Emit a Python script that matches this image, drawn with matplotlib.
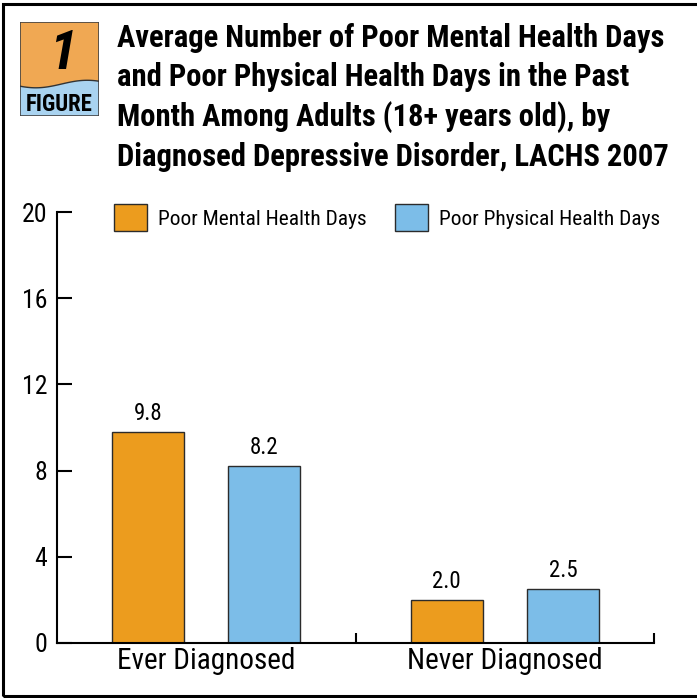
import numpy as np
import matplotlib
matplotlib.use("Agg")
import matplotlib.pyplot as plt
import matplotlib.font_manager as fm
from matplotlib.patches import Rectangle, Polygon

# data
groups = ['Ever Diagnosed', 'Never Diagnosed']
series = ['Poor Mental Health Days', 'Poor Physical Health Days']
mental_days = [9.8, 2.0]
physical_days = [8.2, 2.5]
y_ticks = [0, 4, 8, 12, 16, 20]
title_lines = ['Average Number of Poor Mental Health Days',
               'and Poor Physical Health Days in the Past',
               'Month Among Adults (18+ years old), by',
               'Diagnosed Depressive Disorder, LACHS 2007']

ORANGE = '#EC9C1E'
BLUE = '#7CBDE8'
EDGE = '#2b2b2b'

# pick a narrow sans if one is installed
fonts = fm.fontManager.ttflist
names = {f.name for f in fonts}
stretched = {(f.name, f.stretch) for f in fonts}
FONT = {'family': 'Liberation Sans'}
for n in ['Liberation Sans Narrow', 'Roboto Condensed', 'Open Sans Condensed',
          'Noto Sans Condensed', 'DejaVu Sans Condensed']:
    if n in names:
        FONT = {'family': n}
        break
else:
    for n in ['Noto Sans', 'Open Sans', 'Roboto', 'DejaVu Sans']:
        if (n, 'condensed') in stretched or (n, 'semi-condensed') in stretched:
            FONT = {'family': n, 'stretch': 'condensed'}
            break
if FONT['family'] not in names:
    FONT = {'family': 'DejaVu Sans'}
plt.rcParams['font.family'] = [FONT['family'], 'DejaVu Sans']
if 'stretch' in FONT:
    plt.rcParams['font.stretch'] = FONT['stretch']

W, H = 697, 698
fig = plt.figure(figsize=(W / 100, H / 100), dpi=100)
renderer = fig.canvas.get_renderer()


def fit_size(s, target_px, weight='normal', base=20.0):
    # font size that makes string s about target_px wide
    t = fig.text(0, 0, s, fontsize=base, fontweight=weight)
    w = t.get_window_extent(renderer).width
    t.remove()
    return base * target_px / w


def px_box(x0, y0, x1, y1):
    # pixel box (top-left origin) -> figure fraction rect
    return [x0 / W, 1 - y1 / H, (x1 - x0) / W, (y1 - y0) / H]


# outer frame (right edge runs off the canvas)
frame = Rectangle((3 / W, 2 / H), 1.2, 1 - 6 / H, transform=fig.transFigure,
                  fill=False, edgecolor='black', linewidth=2.2)
fig.patches.append(frame)

# figure badge
bax = fig.add_axes(px_box(20, 22, 99, 116))
bax.set_xlim(0, 1)
bax.set_ylim(0, 1)
bax.axis('off')
wx = np.linspace(0, 1, 60)
wy = 0.34 - 0.04 * np.cos(2 * np.pi * (wx - 0.2) / 1.3)
bax.add_patch(Polygon(np.column_stack([np.r_[wx, 1, 0], np.r_[wy, 1, 1]]),
                      closed=True, facecolor='#F0A853', edgecolor='none'))
bax.add_patch(Polygon(np.column_stack([np.r_[wx, 1, 0], np.r_[wy, 0, 0]]),
                      closed=True, facecolor='#A9D3F0', edgecolor='none'))
bax.plot(wx, wy, color='#333333', lw=1.0)
bax.add_patch(Rectangle((0, 0), 1, 1, fill=False, edgecolor='#444444', lw=1.2))
bax.text(0.54, 0.66, '1', ha='center', va='center', fontsize=40,
         fontweight='bold', fontstyle='italic')
bax.text(0.49, 0.125, 'FIGURE', ha='center', va='center',
         fontsize=fit_size('FIGURE', 67, 'bold'), fontweight='bold')

# title
title_size = fit_size(title_lines[0], 546, 'bold')
for i, line in enumerate(title_lines):
    fig.text(117 / W, 1 - (47 + 39.5 * i) / H, line, ha='left', va='baseline',
             fontsize=title_size, fontweight='bold', color='black')

tick_size = 18.5
value_size = 16.5
cat_size = fit_size(groups[0], 178)
legend_size = fit_size(series[0], 208)

# bars
ax = fig.add_axes(px_box(57, 212, 654, 643))
centers = np.array([0.5, 1.5])
off = 0.195
width = 0.241
b1 = ax.bar(centers - off, mental_days, width, color=ORANGE, edgecolor=EDGE,
            linewidth=1.0, label=series[0])
b2 = ax.bar(centers + off, physical_days, width, color=BLUE, edgecolor=EDGE,
            linewidth=1.0, label=series[1])
for bars, vals in ((b1, mental_days), (b2, physical_days)):
    for rect, v in zip(bars, vals):
        ax.text(rect.get_x() + rect.get_width() / 2, v + 0.55, f'{v:.1f}',
                ha='center', va='baseline', fontsize=value_size)

ax.set_xlim(0, 2)
ax.set_ylim(0, 20)
ax.set_yticks(y_ticks)
ax.set_yticklabels([str(t) for t in y_ticks])
ax.set_xticks([1, 2])
ax.set_xticklabels([])
ax.set_xticks(centers, minor=True)
ax.set_xticklabels(groups, minor=True, fontsize=cat_size)
ax.tick_params(axis='y', direction='in', length=10.8, width=1.5, pad=7,
               labelsize=tick_size)
ax.tick_params(axis='x', which='major', direction='in', length=7.2, width=1.5)
ax.tick_params(axis='x', which='minor', length=0, pad=3)
for s in ('top', 'right'):
    ax.spines[s].set_visible(False)
for s in ('left', 'bottom'):
    ax.spines[s].set_linewidth(1.5)

hl = 33 / (legend_size * 100 / 72)
ax.legend(loc='upper left', bbox_to_anchor=((114 - 57) / 597, (643 - 204) / 431),
          ncol=2, frameon=False, fontsize=legend_size, handlelength=hl,
          handleheight=34 / 33 * hl, handletextpad=11 / 33 * hl,
          columnspacing=28 / 33 * hl, borderpad=0, borderaxespad=0)

fig.savefig('out.png', dpi=100)
